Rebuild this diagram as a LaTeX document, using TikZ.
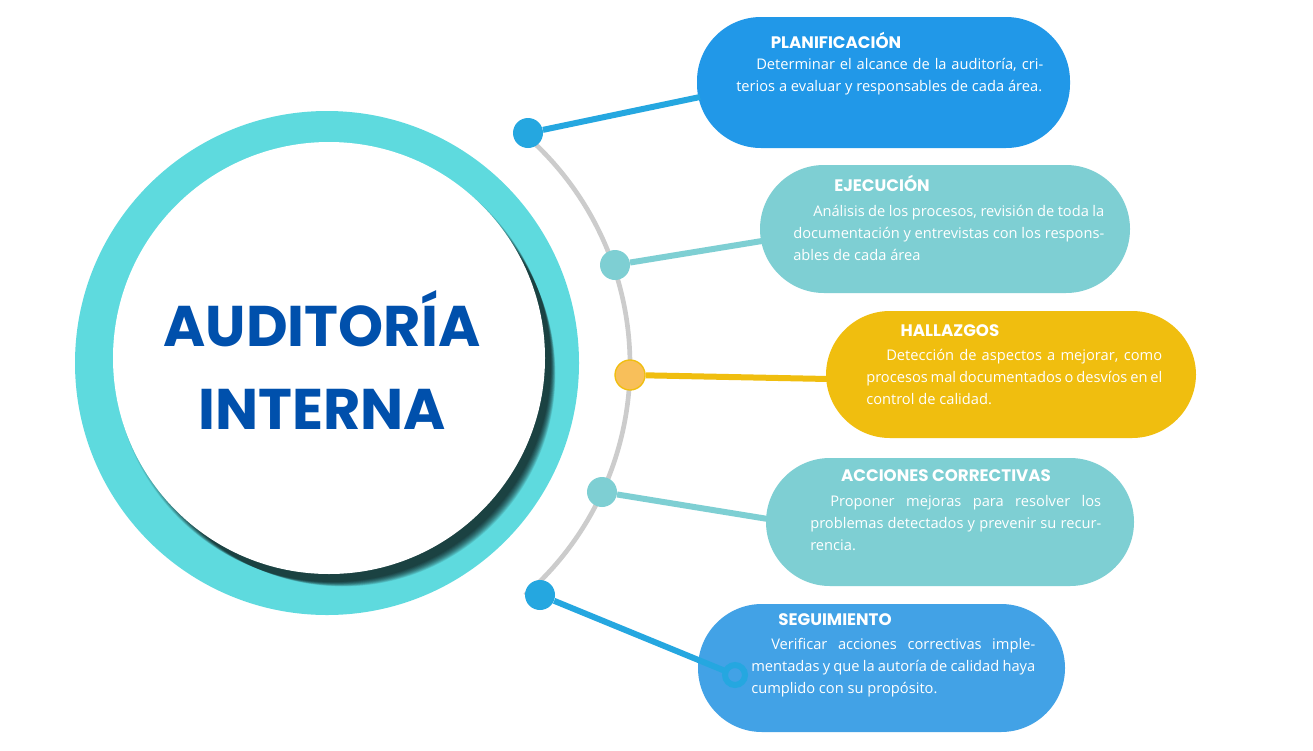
\documentclass[tikz,border=0pt]{standalone}
\usepackage{fontspec}
\setmainfont{Open Sans}
\newfontfamily\titlefont{Poppins}[UprightFont=* Bold]
\usepackage{ragged2e}
\definecolor{cPlan}{RGB}{33,152,232}
\definecolor{cTeal}{RGB}{126,207,211}
\definecolor{cYel}{RGB}{240,190,15}
\definecolor{cSeg}{RGB}{66,162,230}
\definecolor{cDot}{RGB}{37,167,224}
\definecolor{cRing}{RGB}{94,218,222}
\definecolor{cNavy}{RGB}{0,80,172}
\definecolor{cOra}{RGB}{248,191,90}
\begin{document}
\begin{tikzpicture}[x=0.75pt,y=-0.75pt,
  pill/.style={rounded corners=48pt,inner sep=0pt},
  ttl/.style={text=white,font=\titlefont\fontsize{12.5}{14}\selectfont,anchor=center},
  bod/.style={text=white,font=\fontsize{11}{16.5}\selectfont,anchor=north west,inner sep=0pt},
  dotn/.style={circle,minimum size=22.5pt,inner sep=0pt},
  link/.style={line width=4.5pt}]
\useasboundingbox (0,0) rectangle (1313,750);
\fill[white] (0,0) rectangle (1313,750);
% gray arc
\draw[gray!40,line width=3.5pt] (325,365) ++(49:305) arc[start angle=49,end angle=-49,radius=305];
% outer ring
\fill[cRing] (327,363) circle[radius=252];
\begin{scope}
\clip (327,363) circle[radius=252];
\foreach \i in {0,...,11}{
 \fill[black,opacity=0.09] ({333+\i*0.9},{364+\i*0.9}) circle[radius={218-\i*0.5}];
}
\end{scope}
\fill[white] (329,358) circle[radius=216];
\node[text=cNavy,font=\titlefont\fontsize{43}{62}\selectfont,align=center] (main) at (322,360) {AUDITORÍA\\INTERNA};
% pills
\fill[cPlan,pill] (697,17) rectangle (1070,148); \coordinate (p1) at (700,97);
\fill[cTeal,pill] (760,165) rectangle (1130,293); \coordinate (p2) at (762,241);
\fill[cYel,pill] (826,311) rectangle (1196,438); \coordinate (p3) at (828,379);
\fill[cTeal,pill] (766,458) rectangle (1134,586); \coordinate (p4) at (768,519);
\fill[cSeg,pill] (698,604) rectangle (1065,732); \coordinate (p5) at (735,675);
% dots
\node[dotn,fill=cDot] (d1) at (528,133) {};
\node[dotn,fill=cTeal] (d2) at (615,265) {};
\node[dotn,fill=cOra,draw=cYel,line width=1pt] (d3) at (630,375) {};
\node[dotn,fill=cTeal] (d4) at (602,492) {};
\node[dotn,fill=cDot] (d5) at (540,595) {};
\draw[link,cDot] (d1) -- (p1);
\draw[link,cTeal] (d2) -- (p2);
\draw[link,cYel] (d3) -- (p3);
\draw[link,cTeal] (d4) -- (p4);
\draw[link,cDot] (d5) -- (p5);
\draw[cDot,line width=4.5pt,fill=cSeg] (p5) circle[radius=10];
% titles
\node[ttl] (t1) at (836,40) {PLANIFICACIÓN};
\node[ttl] (t2) at (882,183) {EJECUCIÓN};
\node[ttl] (t3) at (950,331) {HALLAZGOS};
\node[ttl] (t4) at (946,476) {ACCIONES CORRECTIVAS};
\node[ttl] (t5) at (835,620) {SEGUIMIENTO};
% bodies
\node[bod] (b1) at (736,58) {\parbox{230.25pt}{\justifying Determinar el alcance de la auditoría, criterios a evaluar y responsables de cada área.}};
\node[bod] (b2) at (793,205) {\parbox{233.25pt}{\justifying Análisis de los procesos, revisión de toda la documentación y entrevistas con los responsables de cada área}};
\node[bod] (b3) at (866,349) {\parbox{222pt}{\justifying Detección de aspectos a mejorar, como procesos mal documentados o desvíos en el control de calidad.}};
\node[bod] (b4) at (810,495) {\parbox{218.25pt}{\justifying Proponer mejoras para resolver los problemas detectados y prevenir su recurrencia.}};
\node[bod] (b5) at (751,638) {\parbox{213pt}{\justifying Verificar acciones correctivas implementadas y que la autoría de calidad haya cumplido con su propósito.}};
\end{tikzpicture}
\end{document}
